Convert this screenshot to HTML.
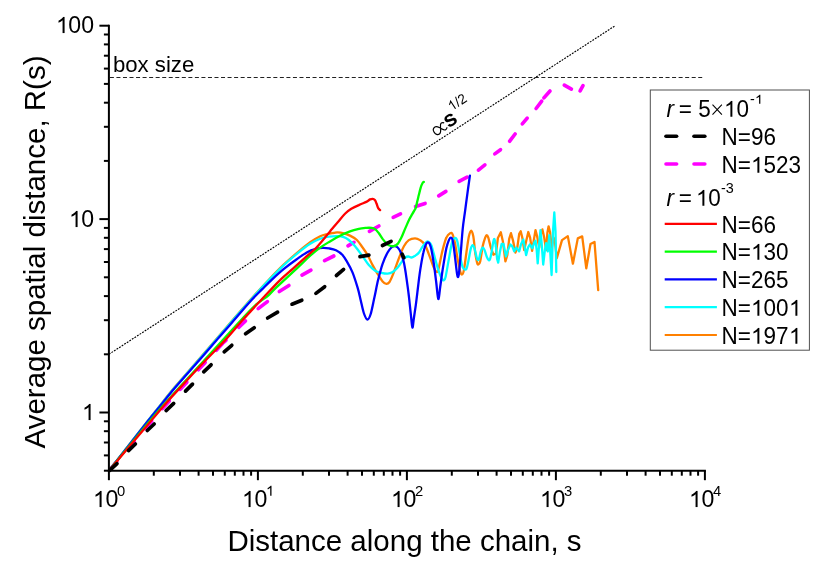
<!DOCTYPE html><html><head><meta charset="utf-8"><title>chart</title><style>
html,body{margin:0;padding:0;background:#fff}
body{width:830px;height:568px;position:relative;overflow:hidden;font-family:"Liberation Sans",sans-serif;color:#000}
.t{position:absolute;white-space:nowrap;line-height:1;transform:scaleY(1.04);transform-origin:50% 50%;filter:grayscale(1)}
.n{transform:none}
sup.ls{top:-0.87em;margin-left:1.0px}
.o{width:.556em;height:.691em;vertical-align:baseline;display:inline-block;fill:#000;position:relative;left:.4px}
.tk{font-size:23.1px}
.lg{font-size:22.5px}
sup{font-size:64%;vertical-align:baseline;position:relative;top:-0.74em;line-height:0}
</style></head><body>
<svg width="830" height="568" viewBox="0 0 830 568" style="position:absolute;left:0;top:0">
<rect width="830" height="568" fill="#fff"/>
<line x1="109.9" y1="77.5" x2="702.2" y2="77.5" stroke="#222" stroke-width="1.1" stroke-dasharray="4.0 2.537"/>
<line x1="108.9" y1="354.3" x2="615.2" y2="25.7" stroke="#000" stroke-width="1.15" stroke-dasharray="1.85 1.2"/>
<path d="M110.5,469.0 C118.8,459.3 148.8,424.4 160.5,411.0 C172.2,397.6 173.4,396.8 181.0,388.5 C188.6,380.2 199.2,368.9 206.0,361.5 C212.8,354.1 219.3,346.9 222.0,344.0" fill="none" stroke="#ff00ff" stroke-width="3.65" stroke-linejoin="round" stroke-linecap="round" stroke-dasharray="10 16.5"/>
<g stroke="#ff00ff" stroke-width="3.65" stroke-linecap="round"><line x1="218.6" y1="346.7" x2="226.0" y2="340.4"/><line x1="238.7" y1="327.3" x2="245.5" y2="321.0"/><line x1="258.2" y1="308.6" x2="267.4" y2="301.6"/><line x1="279.3" y1="291.5" x2="288.9" y2="285.5"/><line x1="302.0" y1="275.2" x2="310.9" y2="270.1"/><line x1="324.6" y1="260.7" x2="333.8" y2="256.0"/><line x1="348.0" y1="245.9" x2="354.0" y2="242.3"/><line x1="369.4" y1="231.4" x2="378.9" y2="226.0"/><line x1="393.2" y1="217.4" x2="400.5" y2="213.8"/><line x1="415.6" y1="206.6" x2="425.1" y2="203.4"/><line x1="438.7" y1="195.9" x2="445.9" y2="191.4"/><line x1="459.1" y1="181.3" x2="467.1" y2="177.1"/><line x1="478.4" y1="170.1" x2="484.9" y2="164.9"/><line x1="494.8" y1="153.9" x2="500.5" y2="149.7"/><line x1="509.7" y1="141.2" x2="515.1" y2="134.0"/><line x1="522.3" y1="123.9" x2="527.2" y2="118.1"/><line x1="536.1" y1="108.5" x2="541.7" y2="101.2"/><line x1="543.9" y1="97.9" x2="550.0" y2="91.0"/><line x1="564.3" y1="85.1" x2="571.4" y2="89.1"/><line x1="580.1" y1="90.8" x2="583.0" y2="85.6"/></g>
<path d="M109.7,469.8 C116.1,461.6 140.1,430.8 147.9,420.8 C155.7,410.8 152.1,415.5 156.5,410.0 C160.9,404.5 167.5,395.8 174.4,387.6 C181.3,379.4 187.8,372.3 197.7,360.8 C207.6,349.3 224.4,329.6 233.8,318.8 C243.2,308.0 248.0,302.5 254.0,295.8 C260.0,289.1 264.9,283.9 269.8,278.7 C274.8,273.5 279.1,269.1 283.7,264.7 C288.3,260.3 293.2,256.1 297.6,252.4 C302.0,248.7 306.4,245.0 310.2,242.3 C314.0,239.6 317.3,237.7 320.2,236.3 C323.1,234.9 325.4,234.6 327.7,234.0 C330.0,233.4 332.4,233.2 334.0,232.9 C335.6,232.6 335.9,232.3 337.5,232.4 C339.1,232.5 341.7,232.8 343.8,233.3 C345.9,233.8 347.8,234.5 350.0,235.6 C352.2,236.7 354.8,238.0 356.9,240.0 C359.0,242.0 360.8,245.0 362.6,247.5 C364.4,250.0 365.9,252.1 367.6,255.0 C369.3,257.9 370.9,262.0 372.6,265.1 C374.3,268.2 375.9,271.1 377.6,273.8 C379.3,276.5 381.1,279.7 382.6,281.4 C384.1,283.1 385.2,283.8 386.4,283.9 C387.5,284.0 388.4,283.5 389.5,282.0 C390.6,280.5 391.6,277.9 392.7,275.1 C393.8,272.3 395.1,268.5 396.4,265.1 C397.6,261.8 398.9,258.1 400.2,255.0 C401.4,251.9 402.5,248.8 403.9,246.3 C405.3,243.8 406.9,241.4 408.8,240.1 C410.7,238.8 413.1,238.4 415.0,238.4 C416.9,238.4 418.3,239.0 420.0,240.1 C421.7,241.2 423.4,242.2 425.1,245.1 C426.8,248.0 428.7,253.9 430.1,257.6 C431.6,261.4 432.7,265.2 433.8,267.6 C434.9,270.0 436.2,272.0 437.0,272.0 C437.8,272.0 437.9,271.2 438.8,267.6 C439.7,264.0 441.3,255.1 442.6,250.1 C443.9,245.1 445.1,240.4 446.4,237.6 C447.6,234.8 449.1,233.7 450.1,233.2 C451.1,232.7 451.8,232.6 452.6,234.4 C453.4,236.2 454.3,239.7 455.1,243.8 C455.9,247.9 456.8,254.3 457.6,258.9 C458.5,263.5 459.5,268.8 460.2,271.4 C460.9,274.0 461.4,274.7 462.0,274.5 C462.6,274.3 463.2,273.8 463.9,270.1 C464.6,266.5 465.6,258.2 466.4,252.6 C467.2,247.0 468.1,240.0 468.9,236.3 C469.7,232.7 470.5,230.7 471.2,230.7 C471.9,230.7 472.6,232.7 473.3,236.3 C474.0,240.0 474.6,248.2 475.2,252.6 C475.8,257.0 476.6,260.6 477.1,262.6 C477.6,264.6 477.8,264.7 478.3,264.5 C478.8,264.3 479.5,264.4 480.2,261.4 C480.9,258.4 481.9,250.3 482.7,246.3 C483.5,242.3 484.5,239.5 485.2,237.6 C485.9,235.7 486.2,235.1 486.7,235.1 C487.2,235.1 487.6,235.5 488.3,237.6 C489.0,239.7 490.0,244.8 490.9,247.6 C491.8,250.4 493.0,253.3 493.4,254.5" fill="none" stroke="#ff8000" stroke-width="2.3" stroke-linejoin="round" stroke-linecap="round" />
<path d="M493.4,254.5 L495.9,253.8 L497.9,238.0 L500.8,232.3 L502.9,241.4 L505.4,261.4 L507.3,255.1 L509.2,238.8 L511.0,233.2 L512.9,240.1 L515.4,252.6 L517.3,247.6 L519.2,233.8 L520.7,231.3 L522.3,237.6 L524.2,250.1 L526.1,241.4 L528.3,232.0 L530.1,237.6 L532.1,250.8 L533.6,241.4 L535.5,230.1 L537.1,236.3 L539.2,247.6 L541.1,232.6 L542.4,229.4 L544.2,237.6 L546.1,250.1 L547.4,232.6 L548.6,226.3 L550.1,232.6 L551.8,247.6 L553.6,237.6 L554.9,241.4 L556.8,258.3 L562.0,240.1 L567.8,236.1 L572.9,263.7 L577.8,238.4 L582.2,236.4 L586.3,268.3 L590.5,244.0 L594.5,241.9 L598.2,290.1" fill="none" stroke="#ff8000" stroke-width="2.3" stroke-linejoin="round" stroke-linecap="round" />
<path d="M109.7,469.8 C116.1,461.6 140.2,430.8 148.0,420.8 C155.8,410.8 152.2,415.5 156.7,410.0 C161.1,404.5 167.8,395.8 174.7,387.6 C181.6,379.4 188.1,372.3 198.0,360.8 C207.9,349.3 224.7,329.6 234.1,318.8 C243.5,308.0 248.4,302.5 254.4,295.8 C260.4,289.1 265.2,284.0 270.1,278.9 C275.0,273.8 279.3,269.4 283.9,265.1 C288.5,260.8 293.3,256.8 297.7,253.2 C302.1,249.6 306.4,246.2 310.2,243.8 C313.9,241.4 317.1,240.0 320.2,238.8 C323.3,237.6 326.1,237.1 329.0,236.7 C331.9,236.3 335.0,236.1 337.5,236.2 C340.0,236.3 341.9,236.6 343.8,237.2 C345.7,237.8 346.9,238.5 348.8,240.0 C350.7,241.5 352.8,243.6 355.1,246.3 C357.4,249.0 360.3,253.2 362.6,256.3 C364.9,259.4 366.7,262.7 368.8,265.1 C370.9,267.5 373.0,269.4 375.1,270.7 C377.2,272.0 379.3,272.3 381.4,272.8 C383.5,273.3 385.7,273.7 387.6,273.6 C389.5,273.5 391.0,273.0 392.7,272.0 C394.4,271.0 396.1,269.4 397.7,267.6 C399.3,265.8 400.9,263.0 402.1,261.3 C403.4,259.6 404.2,258.3 405.2,257.5 C406.2,256.7 407.2,256.5 408.3,256.5 C409.4,256.5 410.4,257.6 411.5,257.5 C412.6,257.4 413.9,256.5 415.2,255.7 C416.4,254.9 417.8,254.1 419.0,252.5 C420.2,250.9 421.4,248.1 422.7,246.3 C423.9,244.5 425.5,242.7 426.5,241.9 C427.5,241.1 427.7,241.2 428.5,241.7 C429.3,242.2 430.2,242.2 431.3,245.1 C432.4,248.0 433.9,254.5 435.1,258.9 C436.4,263.3 437.7,268.1 438.8,271.4 C439.9,274.7 441.1,277.4 442.0,278.9 C442.9,280.4 443.3,280.6 443.9,280.2 C444.5,279.8 444.9,279.9 445.7,276.4 C446.5,272.8 447.8,264.5 448.9,258.9 C449.9,253.3 451.1,246.0 452.0,242.6 C452.9,239.2 453.7,238.6 454.5,238.2 C455.3,237.8 456.2,237.7 457.0,240.1 C457.8,242.5 458.7,248.4 459.5,252.6 C460.3,256.8 461.3,262.4 462.0,265.1 C462.7,267.8 463.2,268.3 463.9,268.9 C464.6,269.5 465.7,270.1 466.4,268.9 C467.1,267.6 467.6,264.8 468.3,261.4 C469.0,258.0 470.1,251.5 470.8,248.8 C471.5,246.1 472.1,245.1 472.7,245.1 C473.3,245.1 473.9,246.5 474.6,248.8 C475.3,251.1 476.4,257.2 477.1,258.9 C477.8,260.6 478.4,260.2 479.0,258.9 C479.6,257.6 480.2,253.2 480.8,251.3 C481.4,249.4 482.1,247.8 482.7,247.6 C483.3,247.4 483.9,248.4 484.6,250.1 C485.3,251.8 486.3,255.9 487.1,257.6 C487.9,259.3 488.9,260.9 489.6,260.1 C490.3,259.3 490.9,255.7 491.5,252.6 C492.1,249.5 492.9,243.5 493.4,241.3 C493.9,239.1 494.2,238.6 494.6,239.4 C495.0,240.2 495.7,245.2 495.9,246.3" fill="none" stroke="#00ffff" stroke-width="2.3" stroke-linejoin="round" stroke-linecap="round" />
<path d="M495.9,246.3 L497.1,258.9 L498.2,262.6 L499.8,252.6 L501.6,243.9 L503.5,243.9 L506.0,256.4 L507.9,250.1 L510.4,244.5 L512.3,246.4 L514.2,251.4 L516.1,247.6 L519.2,251.4 L521.1,243.9 L523.3,239.5 L524.8,247.6 L526.1,255.1 L528.0,247.6 L529.8,244.5 L532.3,248.3 L534.2,242.6 L535.5,240.7 L536.7,250.1 L537.7,263.3 L539.2,243.9 L540.5,230.1 L541.7,243.9 L543.2,264.5 L544.9,250.1 L546.1,243.2 L547.8,251.4 L549.3,235.1 L550.5,256.4 L551.6,275.0 L553.0,231.3 L554.3,212.5 L555.5,231.3 L556.3,272.0" fill="none" stroke="#00ffff" stroke-width="2.3" stroke-linejoin="round" stroke-linecap="round" />
<path d="M109.7,469.8 C116.1,461.6 140.3,430.8 148.2,420.8 C156.1,410.8 152.5,415.5 157.0,410.0 C161.5,404.5 168.2,395.8 175.2,387.6 C182.2,379.4 191.5,369.1 198.8,360.8 C206.1,352.5 212.8,344.6 218.9,337.6 C225.0,330.6 229.8,325.1 235.2,318.8 C240.6,312.5 247.1,304.9 251.6,300.0 C256.1,295.1 258.7,292.7 262.0,289.4 C265.3,286.1 267.8,283.5 271.4,280.1 C275.0,276.7 279.7,272.3 283.9,268.9 C288.1,265.5 292.4,262.3 296.4,259.5 C300.4,256.7 304.3,253.7 307.7,251.9 C311.1,250.1 314.0,249.5 316.5,248.8 C319.0,248.1 320.6,248.0 322.7,247.9 C324.8,247.8 326.8,248.0 329.0,248.4 C331.2,248.8 333.8,249.2 336.0,250.3 C338.2,251.4 340.6,252.9 342.5,255.0 C344.4,257.1 345.8,259.7 347.5,262.6 C349.2,265.5 350.9,268.4 352.6,272.6 C354.3,276.8 356.2,283.0 357.6,287.6 C359.0,292.2 359.7,296.0 360.7,300.2 C361.7,304.4 362.7,309.8 363.8,313.0 C364.9,316.2 366.2,319.3 367.3,319.5 C368.4,319.7 369.5,317.8 370.7,314.0 C371.9,310.2 373.2,302.8 374.5,297.0 C375.8,291.2 376.8,285.0 378.2,279.5 C379.6,274.0 381.0,268.3 382.6,263.8 C384.2,259.3 386.1,255.2 387.6,252.5 C389.1,249.8 390.2,248.6 391.4,247.5 C392.5,246.4 393.4,246.0 394.5,246.0 C395.6,246.0 396.6,246.4 397.7,247.5 C398.8,248.6 399.8,250.0 400.8,252.5 C401.8,255.0 403.0,258.4 403.9,262.6 C404.8,266.8 405.6,272.0 406.4,277.6 C407.2,283.2 408.2,290.3 408.9,296.4 C409.6,302.5 410.2,308.8 410.8,314.0 C411.4,319.2 411.9,326.9 412.4,327.6 C412.9,328.3 413.3,321.8 413.9,318.0 C414.5,314.2 415.1,310.1 415.8,305.1 C416.5,300.1 417.2,293.8 417.9,288.0 C418.6,282.2 419.3,276.0 420.2,270.1 C421.1,264.2 422.4,256.8 423.4,252.5 C424.3,248.2 425.2,246.1 425.9,244.4 C426.6,242.7 427.1,242.4 427.7,242.3 C428.3,242.2 429.0,242.5 429.6,243.8 C430.2,245.1 430.8,246.5 431.5,250.0 C432.2,253.5 433.2,259.5 434.0,265.0 C434.8,270.5 435.6,277.3 436.3,283.0 C437.0,288.7 437.7,298.4 438.3,299.1 C438.9,299.8 439.6,291.2 440.2,287.0 C440.8,282.8 441.4,278.2 442.0,274.0 C442.6,269.8 443.2,266.3 443.9,262.0 C444.6,257.7 445.6,251.7 446.4,248.0 C447.2,244.3 448.2,241.8 448.9,240.1 C449.6,238.4 450.2,237.6 450.8,237.6 C451.4,237.6 452.0,237.6 452.6,240.1 C453.2,242.6 453.9,247.8 454.5,252.6 C455.1,257.4 455.9,264.9 456.4,268.9 C456.9,272.9 457.2,275.6 457.6,276.4 C458.0,277.2 458.4,277.9 458.9,273.9 C459.4,269.9 460.2,260.1 460.8,252.6 C461.4,245.1 462.0,236.1 462.7,229.0 C463.4,221.9 464.4,216.4 465.2,210.1 C466.0,203.8 466.9,197.0 467.7,191.3 C468.5,185.6 469.5,178.3 469.9,175.7" fill="none" stroke="#0000ff" stroke-width="2.3" stroke-linejoin="round" stroke-linecap="round" />
<path d="M109.7,469.8 C117.9,459.8 143.4,428.2 159.1,410.0 C174.8,391.8 190.0,376.0 203.9,360.8 C217.8,345.6 233.5,328.2 242.3,318.8 C251.1,309.4 252.3,308.0 256.6,304.2 C260.9,300.4 264.7,298.5 267.9,295.8 C271.1,293.1 270.6,292.9 275.6,288.2 C280.6,283.5 291.9,273.0 297.7,267.6 C303.5,262.2 306.4,259.0 310.2,255.7 C313.9,252.4 316.9,250.0 320.2,247.6 C323.5,245.2 326.7,243.4 330.0,241.4 C333.3,239.4 336.7,237.5 340.0,235.8 C343.3,234.1 346.9,232.6 350.0,231.4 C353.1,230.2 356.1,229.5 358.8,228.9 C361.5,228.3 364.2,228.1 366.3,227.9 C368.4,227.7 369.9,227.7 371.4,227.9 C372.9,228.1 373.9,228.2 375.1,229.1 C376.4,230.0 377.6,231.7 378.9,233.3 C380.1,234.9 381.4,237.2 382.6,238.9 C383.9,240.6 385.1,242.2 386.4,243.3 C387.7,244.5 388.9,245.3 390.2,245.8 C391.4,246.3 392.6,246.5 393.9,246.2 C395.1,245.9 396.4,245.3 397.7,243.9 C398.9,242.5 400.1,240.3 401.4,237.6 C402.7,234.9 404.3,230.5 405.6,227.6 C406.9,224.7 408.0,222.0 409.0,220.0 C410.0,218.0 410.6,217.0 411.4,215.6 C412.2,214.2 413.1,212.7 413.8,211.4 C414.5,210.1 415.2,209.5 415.7,208.0 C416.2,206.5 416.5,204.8 417.0,202.6 C417.5,200.4 418.2,197.6 418.8,195.1 C419.4,192.6 420.1,189.6 420.7,187.6 C421.3,185.6 422.1,183.9 422.6,183.0 C423.1,182.1 423.6,182.1 423.8,181.9" fill="none" stroke="#00ff00" stroke-width="2.3" stroke-linejoin="round" stroke-linecap="round" />
<path d="M109.7,469.8 C118.1,459.8 148.4,423.7 160.2,410.0 C171.9,396.3 172.7,395.8 180.2,387.6 C187.7,379.4 197.7,368.7 205.2,360.8 C212.7,352.9 219.1,346.7 225.2,340.1 C231.2,333.5 236.5,326.9 241.5,321.3 C246.5,315.7 251.3,310.6 255.2,306.3 C259.1,302.1 261.0,300.2 265.1,295.8 C269.2,291.4 275.5,284.6 280.1,280.1 C284.7,275.6 288.5,272.6 292.7,268.9 C296.9,265.1 301.4,261.0 305.2,257.6 C308.9,254.3 312.1,251.9 315.2,248.8 C318.3,245.7 321.5,241.7 324.0,238.8 C326.5,235.9 327.8,234.1 330.0,231.4 C332.2,228.7 335.0,225.5 337.5,222.6 C340.0,219.7 342.7,216.1 345.0,213.8 C347.3,211.5 349.0,210.2 351.3,208.8 C353.6,207.4 356.3,206.2 358.8,205.1 C361.3,203.9 364.4,202.8 366.3,201.9 C368.2,201.0 369.1,199.9 370.1,199.4 C371.2,198.9 371.8,198.7 372.6,198.8 C373.4,198.9 374.2,199.3 374.9,200.1 C375.6,200.9 376.1,202.5 376.6,203.8 C377.2,205.2 377.6,207.1 378.2,208.2 C378.8,209.2 379.8,209.8 380.1,210.1" fill="none" stroke="#ff0000" stroke-width="2.3" stroke-linejoin="round" stroke-linecap="round" />
<g stroke="#000" stroke-width="3.65" stroke-linecap="round"><line x1="109.7" y1="470.4" x2="117.0" y2="463.7"/><line x1="128.5" y1="450.6" x2="135.4" y2="444.0"/><line x1="147.3" y1="430.5" x2="154.2" y2="424.0"/><line x1="166.1" y1="410.6" x2="173.7" y2="403.4"/><line x1="185.5" y1="391.1" x2="192.5" y2="384.1"/><line x1="203.7" y1="371.8" x2="211.1" y2="364.8"/><line x1="224.2" y1="351.9" x2="231.8" y2="345.3"/><line x1="245.6" y1="333.8" x2="254.2" y2="327.7"/><line x1="267.6" y1="318.0" x2="277.6" y2="312.2"/><line x1="292.0" y1="304.2" x2="301.8" y2="300.2"/><line x1="315.9" y1="293.4" x2="324.7" y2="286.7"/><line x1="336.4" y1="275.5" x2="343.6" y2="269.4"/><line x1="360.0" y1="256.6" x2="368.9" y2="255.1"/><line x1="382.4" y1="245.5" x2="391.1" y2="241.4"/><line x1="402.2" y1="254.2" x2="403.8" y2="257.7"/></g>
<g stroke="#000" stroke-width="2" fill="none">
<line x1="108.9" y1="24.7" x2="108.9" y2="471.7"/>
<line x1="107.9" y1="470.7" x2="705.9" y2="470.7"/>
<line x1="103.9" y1="470.7" x2="108.9" y2="470.7"/>
<line x1="103.9" y1="455.4" x2="108.9" y2="455.4"/>
<line x1="103.9" y1="442.5" x2="108.9" y2="442.5"/>
<line x1="103.9" y1="431.2" x2="108.9" y2="431.2"/>
<line x1="103.9" y1="421.3" x2="108.9" y2="421.3"/>
<line x1="99.4" y1="412.5" x2="108.9" y2="412.5"/>
<line x1="103.9" y1="354.3" x2="108.9" y2="354.3"/>
<line x1="103.9" y1="320.2" x2="108.9" y2="320.2"/>
<line x1="103.9" y1="296.1" x2="108.9" y2="296.1"/>
<line x1="103.9" y1="277.3" x2="108.9" y2="277.3"/>
<line x1="103.9" y1="262.0" x2="108.9" y2="262.0"/>
<line x1="103.9" y1="249.1" x2="108.9" y2="249.1"/>
<line x1="103.9" y1="237.8" x2="108.9" y2="237.8"/>
<line x1="103.9" y1="227.9" x2="108.9" y2="227.9"/>
<line x1="99.4" y1="219.1" x2="108.9" y2="219.1"/>
<line x1="103.9" y1="160.9" x2="108.9" y2="160.9"/>
<line x1="103.9" y1="126.8" x2="108.9" y2="126.8"/>
<line x1="103.9" y1="102.7" x2="108.9" y2="102.7"/>
<line x1="103.9" y1="83.9" x2="108.9" y2="83.9"/>
<line x1="103.9" y1="68.6" x2="108.9" y2="68.6"/>
<line x1="103.9" y1="55.7" x2="108.9" y2="55.7"/>
<line x1="103.9" y1="44.4" x2="108.9" y2="44.4"/>
<line x1="103.9" y1="34.5" x2="108.9" y2="34.5"/>
<line x1="99.4" y1="25.7" x2="108.9" y2="25.7"/>
<line x1="108.9" y1="470.7" x2="108.9" y2="480.2"/>
<line x1="153.8" y1="470.7" x2="153.8" y2="475.7"/>
<line x1="180.0" y1="470.7" x2="180.0" y2="475.7"/>
<line x1="198.6" y1="470.7" x2="198.6" y2="475.7"/>
<line x1="213.0" y1="470.7" x2="213.0" y2="475.7"/>
<line x1="224.8" y1="470.7" x2="224.8" y2="475.7"/>
<line x1="234.8" y1="470.7" x2="234.8" y2="475.7"/>
<line x1="243.5" y1="470.7" x2="243.5" y2="475.7"/>
<line x1="251.1" y1="470.7" x2="251.1" y2="475.7"/>
<line x1="257.9" y1="470.7" x2="257.9" y2="480.2"/>
<line x1="302.8" y1="470.7" x2="302.8" y2="475.7"/>
<line x1="329.0" y1="470.7" x2="329.0" y2="475.7"/>
<line x1="347.6" y1="470.7" x2="347.6" y2="475.7"/>
<line x1="362.0" y1="470.7" x2="362.0" y2="475.7"/>
<line x1="373.8" y1="470.7" x2="373.8" y2="475.7"/>
<line x1="383.8" y1="470.7" x2="383.8" y2="475.7"/>
<line x1="392.5" y1="470.7" x2="392.5" y2="475.7"/>
<line x1="400.1" y1="470.7" x2="400.1" y2="475.7"/>
<line x1="406.9" y1="470.7" x2="406.9" y2="480.2"/>
<line x1="451.8" y1="470.7" x2="451.8" y2="475.7"/>
<line x1="478.0" y1="470.7" x2="478.0" y2="475.7"/>
<line x1="496.6" y1="470.7" x2="496.6" y2="475.7"/>
<line x1="511.0" y1="470.7" x2="511.0" y2="475.7"/>
<line x1="522.8" y1="470.7" x2="522.8" y2="475.7"/>
<line x1="532.8" y1="470.7" x2="532.8" y2="475.7"/>
<line x1="541.5" y1="470.7" x2="541.5" y2="475.7"/>
<line x1="549.1" y1="470.7" x2="549.1" y2="475.7"/>
<line x1="555.9" y1="470.7" x2="555.9" y2="480.2"/>
<line x1="600.8" y1="470.7" x2="600.8" y2="475.7"/>
<line x1="627.0" y1="470.7" x2="627.0" y2="475.7"/>
<line x1="645.6" y1="470.7" x2="645.6" y2="475.7"/>
<line x1="660.0" y1="470.7" x2="660.0" y2="475.7"/>
<line x1="671.8" y1="470.7" x2="671.8" y2="475.7"/>
<line x1="681.8" y1="470.7" x2="681.8" y2="475.7"/>
<line x1="690.5" y1="470.7" x2="690.5" y2="475.7"/>
<line x1="698.1" y1="470.7" x2="698.1" y2="475.7"/>
<line x1="704.9" y1="470.7" x2="704.9" y2="480.2"/>
</g>
<rect x="650.3" y="90" width="159.1" height="260.2" fill="#fff" stroke="#505050" stroke-width="1"/>
<g stroke="#000" stroke-width="3.65" stroke-linecap="round"><line x1="666.0" y1="136.2" x2="676.6" y2="136.2"/><line x1="694.0" y1="136.2" x2="704.8" y2="136.2"/></g>
<g stroke="#ff00ff" stroke-width="3.65" stroke-linecap="round"><line x1="666.0" y1="164.0" x2="676.6" y2="164.0"/><line x1="694.0" y1="164.0" x2="704.8" y2="164.0"/></g>
<line x1="664.7" y1="223.9" x2="716.9" y2="223.9" stroke="#ff0000" stroke-width="2.2"/>
<line x1="664.7" y1="251.6" x2="716.9" y2="251.6" stroke="#00ff00" stroke-width="2.2"/>
<line x1="664.7" y1="279.3" x2="716.9" y2="279.3" stroke="#0000ff" stroke-width="2.2"/>
<line x1="664.7" y1="307.1" x2="716.9" y2="307.1" stroke="#00ffff" stroke-width="2.2"/>
<line x1="664.7" y1="335.0" x2="716.9" y2="335.0" stroke="#ff8000" stroke-width="2.2"/>
<g transform="translate(436.3,136.3) rotate(-33)" font-family="Liberation Sans, sans-serif" fill="#000" style="filter:grayscale(1)"><path d="M13.9,-7.0 C13.2,-8.0 12.3,-8.4 11.4,-8.4 C9.9,-8.4 9.2,-6.6 8.0,-4.4 C6.6,-2.0 5.8,-0.2 3.9,-0.2 C1.8,-0.2 0.4,-1.9 0.4,-4.4 C0.4,-6.9 1.8,-8.6 3.9,-8.6 C5.8,-8.6 6.6,-6.8 8.0,-4.4 C9.2,-2.2 9.9,-0.4 11.4,-0.4 C12.3,-0.4 13.2,-0.8 13.9,-1.8" fill="none" stroke="#000" stroke-width="1.15"/><text x="14.5" y="0" font-size="22.4" font-weight="bold">s</text><g transform="translate(26.6,-12.6) scale(0.006738)"><path d="M763 0H583V-1147Q518-1085 412.5-1023T223-930V-1104Q374-1175 487-1276T647-1472H763Z"/></g><text x="34.27" y="-12.6" font-size="13.8">/2</text></g>
</svg>
<div class="t tk" style="right:736.0px;top:14.2px"><svg class="o" viewBox="0 -1472 1139 1472" preserveAspectRatio="none"><path d="M763 0H583V-1147Q518-1085 412.5-1023T223-930V-1104Q374-1175 487-1276T647-1472H763Z"/></svg>00</div>
<div class="t tk" style="right:736.0px;top:207.6px"><svg class="o" viewBox="0 -1472 1139 1472" preserveAspectRatio="none"><path d="M763 0H583V-1147Q518-1085 412.5-1023T223-930V-1104Q374-1175 487-1276T647-1472H763Z"/></svg>0</div>
<div class="t tk" style="right:736.0px;top:401.1px"><svg class="o" viewBox="0 -1472 1139 1472" preserveAspectRatio="none"><path d="M763 0H583V-1147Q518-1085 412.5-1023T223-930V-1104Q374-1175 487-1276T647-1472H763Z"/></svg></div>
<div class="t tk" style="left:92.7px;top:487.9px"><svg class="o" viewBox="0 -1472 1139 1472" preserveAspectRatio="none"><path d="M763 0H583V-1147Q518-1085 412.5-1023T223-930V-1104Q374-1175 487-1276T647-1472H763Z"/></svg>0<sup style="margin-left:-1.4px">0</sup></div>
<div class="t tk" style="left:241.7px;top:487.9px"><svg class="o" viewBox="0 -1472 1139 1472" preserveAspectRatio="none"><path d="M763 0H583V-1147Q518-1085 412.5-1023T223-930V-1104Q374-1175 487-1276T647-1472H763Z"/></svg>0<sup style="margin-left:-1.4px"><svg class="o" viewBox="0 -1472 1139 1472" preserveAspectRatio="none"><path d="M763 0H583V-1147Q518-1085 412.5-1023T223-930V-1104Q374-1175 487-1276T647-1472H763Z"/></svg></sup></div>
<div class="t tk" style="left:390.7px;top:487.9px"><svg class="o" viewBox="0 -1472 1139 1472" preserveAspectRatio="none"><path d="M763 0H583V-1147Q518-1085 412.5-1023T223-930V-1104Q374-1175 487-1276T647-1472H763Z"/></svg>0<sup style="margin-left:-1.4px">2</sup></div>
<div class="t tk" style="left:539.7px;top:487.9px"><svg class="o" viewBox="0 -1472 1139 1472" preserveAspectRatio="none"><path d="M763 0H583V-1147Q518-1085 412.5-1023T223-930V-1104Q374-1175 487-1276T647-1472H763Z"/></svg>0<sup style="margin-left:-1.4px">3</sup></div>
<div class="t tk" style="left:688.7px;top:487.9px"><svg class="o" viewBox="0 -1472 1139 1472" preserveAspectRatio="none"><path d="M763 0H583V-1147Q518-1085 412.5-1023T223-930V-1104Q374-1175 487-1276T647-1472H763Z"/></svg>0<sup style="margin-left:-1.4px">4</sup></div>
<div class="t n" style="font-size:29.5px;left:227.4px;top:525.8px">Distance along the chain, s</div>
<div class="t" style="font-size:29.5px;left:34.7px;top:252px;transform:translate(-50%,-50%) rotate(-90deg);">Average spatial distance, R(s)</div>
<div class="t n" style="font-size:22.2px;left:112.9px;top:54.3px">box size</div>
<div class="t lg" style="left:666.5px;top:99.4px"><i style="margin-right:-1.5px">r</i> = 5<svg style="width:12.4px;height:12px;vertical-align:baseline;display:inline-block;position:relative;top:-1.4px;margin:0 0.2px 0 0.8px" viewBox="0 0 12.4 12"><path d="M1.5,0.9L10.9,10.4M1.5,10.4L10.9,0.9" stroke="#000" stroke-width="1.1" fill="none"/></svg><svg class="o" viewBox="0 -1472 1139 1472" preserveAspectRatio="none"><path d="M763 0H583V-1147Q518-1085 412.5-1023T223-930V-1104Q374-1175 487-1276T647-1472H763Z"/></svg>0<sup class="ls">-<svg class="o" viewBox="0 -1472 1139 1472" preserveAspectRatio="none"><path d="M763 0H583V-1147Q518-1085 412.5-1023T223-930V-1104Q374-1175 487-1276T647-1472H763Z"/></svg></sup></div>
<div class="t lg" style="left:666.5px;top:187.9px"><i style="margin-right:-1.5px">r</i> = <span style="margin-left:-2.4px"><svg class="o" viewBox="0 -1472 1139 1472" preserveAspectRatio="none"><path d="M763 0H583V-1147Q518-1085 412.5-1023T223-930V-1104Q374-1175 487-1276T647-1472H763Z"/></svg>0</span><sup class="ls" style="margin-left:0.2px">-3</sup></div>
<div class="t lg" style="left:721.6px;top:127.0px">N=96</div>
<div class="t lg" style="left:721.6px;top:154.8px">N=<svg class="o" viewBox="0 -1472 1139 1472" preserveAspectRatio="none"><path d="M763 0H583V-1147Q518-1085 412.5-1023T223-930V-1104Q374-1175 487-1276T647-1472H763Z"/></svg>523</div>
<div class="t lg" style="left:721.6px;top:214.7px">N=66</div>
<div class="t lg" style="left:721.6px;top:242.4px">N=<svg class="o" viewBox="0 -1472 1139 1472" preserveAspectRatio="none"><path d="M763 0H583V-1147Q518-1085 412.5-1023T223-930V-1104Q374-1175 487-1276T647-1472H763Z"/></svg>30</div>
<div class="t lg" style="left:721.6px;top:270.1px">N=265</div>
<div class="t lg" style="left:721.6px;top:297.9px">N=<svg class="o" viewBox="0 -1472 1139 1472" preserveAspectRatio="none"><path d="M763 0H583V-1147Q518-1085 412.5-1023T223-930V-1104Q374-1175 487-1276T647-1472H763Z"/></svg>00<svg class="o" viewBox="0 -1472 1139 1472" preserveAspectRatio="none"><path d="M763 0H583V-1147Q518-1085 412.5-1023T223-930V-1104Q374-1175 487-1276T647-1472H763Z"/></svg></div>
<div class="t lg" style="left:721.6px;top:325.8px">N=<svg class="o" viewBox="0 -1472 1139 1472" preserveAspectRatio="none"><path d="M763 0H583V-1147Q518-1085 412.5-1023T223-930V-1104Q374-1175 487-1276T647-1472H763Z"/></svg>97<svg class="o" viewBox="0 -1472 1139 1472" preserveAspectRatio="none"><path d="M763 0H583V-1147Q518-1085 412.5-1023T223-930V-1104Q374-1175 487-1276T647-1472H763Z"/></svg></div>
</body></html>
